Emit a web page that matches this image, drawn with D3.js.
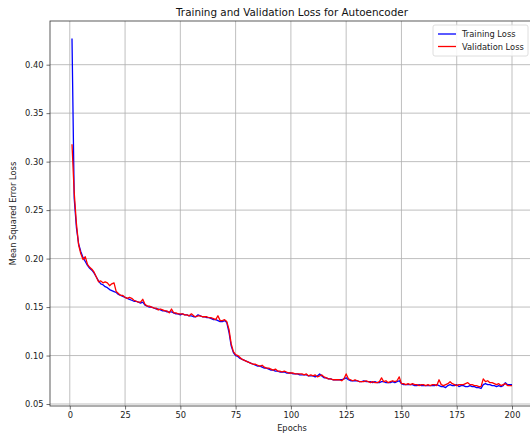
<!DOCTYPE html>
<html>
<head>
<meta charset="utf-8">
<script src="https://cdn.jsdelivr.net/npm/d3@7"></script>
<style>
  html, body { margin: 0; padding: 0; background: #fff; }
  svg { display: block; font-family: "DejaVu Sans", sans-serif; }
</style>
</head>
<body>
<svg id="chart" width="530" height="433"></svg>
<script>
// Per-epoch MSE loss of the autoencoder (epochs 1..200)
const trainLoss = [
  0.427, 0.262, 0.232, 0.215, 0.207, 0.201, 0.197, 0.193, 0.190, 0.188,
  0.185, 0.181, 0.177, 0.174, 0.173, 0.171, 0.170, 0.168, 0.167, 0.166,
  0.165, 0.163, 0.162, 0.161, 0.160, 0.159, 0.158, 0.157, 0.156, 0.156,
  0.155, 0.154, 0.155, 0.152, 0.151, 0.150, 0.150, 0.149, 0.148, 0.148,
  0.147, 0.146, 0.146, 0.145, 0.145, 0.145, 0.144, 0.143, 0.143, 0.142,
  0.143, 0.142, 0.142, 0.141, 0.141, 0.140, 0.140, 0.142, 0.141, 0.140,
  0.140, 0.139, 0.139, 0.138, 0.137, 0.137, 0.136, 0.135, 0.135, 0.136,
  0.134, 0.124, 0.110, 0.103, 0.100, 0.099, 0.097, 0.096, 0.095, 0.094,
  0.093, 0.092, 0.091, 0.090, 0.089, 0.089, 0.088, 0.087, 0.087, 0.086,
  0.085, 0.085, 0.084, 0.084, 0.083, 0.083, 0.083, 0.082, 0.082, 0.082,
  0.081, 0.081, 0.081, 0.080, 0.080, 0.080, 0.080, 0.079, 0.079, 0.079,
  0.078, 0.079, 0.081, 0.079, 0.077, 0.077, 0.076, 0.076, 0.075, 0.075,
  0.075, 0.075, 0.075, 0.076, 0.077, 0.075, 0.074, 0.074, 0.074, 0.074,
  0.073, 0.073, 0.074, 0.073, 0.073, 0.073, 0.072, 0.073, 0.072, 0.072,
  0.073, 0.073, 0.072, 0.072, 0.072, 0.073, 0.072, 0.073, 0.074, 0.071,
  0.070, 0.070, 0.070, 0.070, 0.070, 0.069, 0.069, 0.070, 0.069, 0.069,
  0.069, 0.069, 0.069, 0.069, 0.069, 0.070, 0.069, 0.068, 0.068, 0.067,
  0.069, 0.070, 0.069, 0.069, 0.070, 0.068, 0.069, 0.069, 0.068, 0.068,
  0.069, 0.068, 0.068, 0.067, 0.067, 0.066, 0.070, 0.071, 0.070, 0.070,
  0.069, 0.069, 0.068, 0.069, 0.068, 0.069, 0.072, 0.070, 0.070, 0.070
];
const valLoss = [
  0.318, 0.268, 0.236, 0.214, 0.205, 0.199, 0.202, 0.194, 0.191, 0.189,
  0.186, 0.181, 0.176, 0.177, 0.175, 0.176, 0.175, 0.172, 0.174, 0.175,
  0.166, 0.164, 0.162, 0.162, 0.160, 0.159, 0.160, 0.159, 0.157, 0.156,
  0.155, 0.155, 0.158, 0.153, 0.151, 0.151, 0.150, 0.149, 0.149, 0.147,
  0.148, 0.147, 0.146, 0.146, 0.144, 0.148, 0.144, 0.144, 0.143, 0.143,
  0.143, 0.142, 0.142, 0.141, 0.143, 0.141, 0.140, 0.141, 0.141, 0.140,
  0.140, 0.140, 0.139, 0.139, 0.138, 0.137, 0.141, 0.136, 0.136, 0.137,
  0.135, 0.127, 0.112, 0.104, 0.101, 0.100, 0.098, 0.096, 0.095, 0.094,
  0.093, 0.092, 0.091, 0.091, 0.090, 0.089, 0.090, 0.088, 0.087, 0.087,
  0.086, 0.085, 0.086, 0.084, 0.084, 0.083, 0.084, 0.083, 0.082, 0.082,
  0.082, 0.081, 0.081, 0.081, 0.081, 0.080, 0.081, 0.079, 0.080, 0.079,
  0.080, 0.078, 0.079, 0.080, 0.078, 0.077, 0.076, 0.076, 0.075, 0.075,
  0.075, 0.075, 0.074, 0.076, 0.081, 0.076, 0.075, 0.074, 0.075, 0.074,
  0.073, 0.073, 0.073, 0.074, 0.073, 0.072, 0.073, 0.072, 0.072, 0.073,
  0.077, 0.073, 0.074, 0.072, 0.073, 0.074, 0.073, 0.074, 0.078, 0.071,
  0.071, 0.070, 0.071, 0.070, 0.071, 0.070, 0.070, 0.069, 0.070, 0.070,
  0.069, 0.070, 0.069, 0.070, 0.070, 0.069, 0.075, 0.070, 0.069, 0.070,
  0.071, 0.073, 0.071, 0.070, 0.069, 0.070, 0.070, 0.070, 0.071, 0.072,
  0.070, 0.070, 0.069, 0.069, 0.068, 0.068, 0.076, 0.073, 0.074, 0.072,
  0.072, 0.071, 0.070, 0.071, 0.069, 0.070, 0.071, 0.069, 0.069, 0.069
];
const epochs = trainLoss.map((_, i) => i + 1);
const xTicks = [0, 25, 50, 75, 100, 125, 150, 175, 200];
const yTicks = [0.05, 0.10, 0.15, 0.20, 0.25, 0.30, 0.35, 0.40];
const seriesNames = ["Training Loss", "Validation Loss"];
const seriesColors = ["#0000ff", "#ff0000"];

const svg = d3.select("#chart");
const plot = { left: 50, right: 534, top: 21, bottom: 406 };

// 5% padding around the data range on both axes
const xExt = d3.extent(epochs);
const xPad = (xExt[1] - xExt[0]) * 0.05;
const allY = trainLoss.concat(valLoss);
const yExt = d3.extent(allY);
const yPad = (yExt[1] - yExt[0]) * 0.05;

const x = d3.scaleLinear().domain([xExt[0] - xPad, xExt[1] + xPad]).range([plot.left, plot.right]);
const y = d3.scaleLinear().domain([yExt[0] - yPad, yExt[1] + yPad]).range([plot.bottom, plot.top]);

svg.append("defs").append("clipPath").attr("id", "clip")
  .append("rect").attr("x", plot.left).attr("y", plot.top)
  .attr("width", plot.right - plot.left).attr("height", plot.bottom - plot.top);

// grid
const grid = svg.append("g").attr("clip-path", "url(#clip)");
grid.selectAll(".vg").data(xTicks).join("line")
  .attr("x1", d => x(d)).attr("x2", d => x(d))
  .attr("y1", plot.top).attr("y2", plot.bottom)
  .attr("stroke", "#b0b0b0").attr("stroke-width", 0.9).attr("stroke-opacity", 0.9);
grid.selectAll(".hg").data(yTicks).join("line")
  .attr("y1", d => y(d)).attr("y2", d => y(d))
  .attr("x1", plot.left).attr("x2", plot.right)
  .attr("stroke", "#b0b0b0").attr("stroke-width", 0.9).attr("stroke-opacity", 0.9);

// loss curves
const line = d3.line().x((d, i) => x(epochs[i])).y(d => y(d));
const lines = svg.append("g").attr("clip-path", "url(#clip)");
[trainLoss, valLoss].forEach((s, k) => {
  lines.append("path").datum(s)
    .attr("d", line)
    .attr("fill", "none")
    .attr("stroke", seriesColors[k])
    .attr("stroke-width", 1.3)
    .attr("stroke-linejoin", "round");
});

// axes
const xAxis = d3.axisBottom(x).tickValues(xTicks).tickFormat(d3.format("d")).tickSize(3.5).tickPadding(3);
const yAxis = d3.axisLeft(y).tickValues(yTicks).tickFormat(d3.format(".2f")).tickSize(3.5).tickPadding(3);
const gx = svg.append("g").attr("transform", `translate(0,${plot.bottom})`).call(xAxis);
const gy = svg.append("g").attr("transform", `translate(${plot.left},0)`).call(yAxis);
[gx, gy].forEach(g => {
  g.select(".domain").remove();
  g.selectAll(".tick line").attr("stroke", "#333").attr("stroke-width", 0.7);
  g.selectAll(".tick text").attr("fill", "#222").style("font-size", "8.3px")
    .style("font-family", "DejaVu Sans, sans-serif");
});

// frame
svg.append("rect")
  .attr("x", plot.left).attr("y", plot.top)
  .attr("width", plot.right - plot.left).attr("height", plot.bottom - plot.top)
  .attr("fill", "none").attr("stroke", "#333").attr("stroke-width", 0.8);

// title and axis labels
const midX = (plot.left + plot.right) / 2;
svg.append("text").attr("x", midX).attr("y", 16)
  .attr("text-anchor", "middle").style("font-size", "10.4px").attr("fill", "#111")
  .text("Training and Validation Loss for Autoencoder");
svg.append("text").attr("x", midX).attr("y", 431)
  .attr("text-anchor", "middle").style("font-size", "8.3px").attr("fill", "#222")
  .text("Epochs");
svg.append("text")
  .attr("transform", `translate(16,${(plot.top + plot.bottom) / 2}) rotate(-90)`)
  .attr("text-anchor", "middle").style("font-size", "8.3px").attr("fill", "#222")
  .text("Mean Squared Error Loss");

// legend
const lg = svg.append("g").attr("transform", "translate(433,25)");
lg.append("rect").attr("width", 95).attr("height", 31).attr("rx", 2)
  .attr("fill", "#fff").attr("fill-opacity", 0.85)
  .attr("stroke", "#d6d6d6").attr("stroke-width", 0.8);
seriesNames.forEach((name, k) => {
  const yy = 9 + k * 12.5;
  lg.append("line").attr("x1", 5).attr("x2", 23).attr("y1", yy).attr("y2", yy)
    .attr("stroke", seriesColors[k]).attr("stroke-width", 1.3);
  lg.append("text").attr("x", 29).attr("y", yy + 3)
    .style("font-size", "8.3px").attr("fill", "#222").text(name);
});
</script>
</body>
</html>
